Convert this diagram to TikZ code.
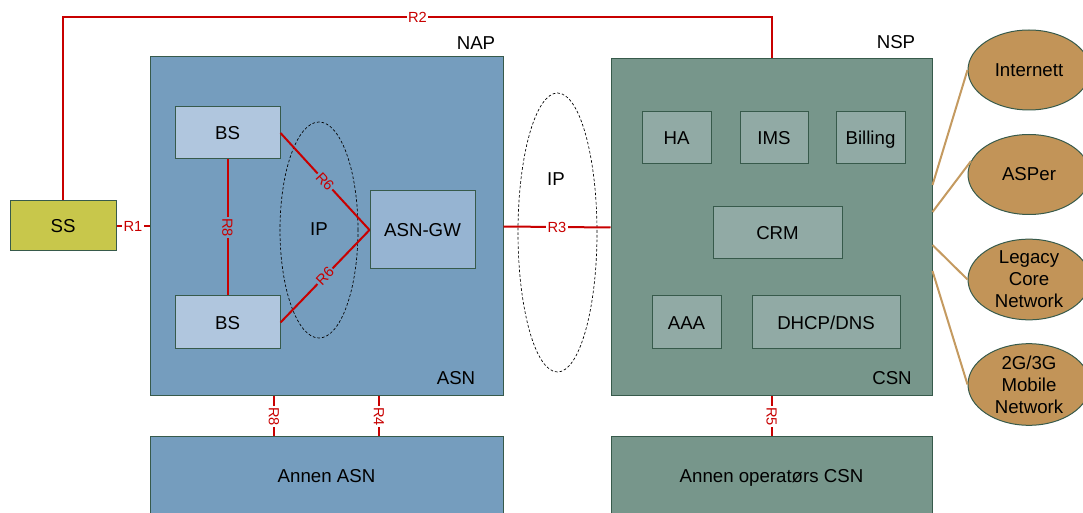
\documentclass[tikz,border=0pt]{standalone}
\usepackage{fontspec}
\setmainfont{Liberation Sans}
\usetikzlibrary{shapes.geometric}

\definecolor{asnfill}{RGB}{117,157,190}
\definecolor{bsfill}{RGB}{176,198,222}
\definecolor{gwfill}{RGB}{150,180,210}
\definecolor{nspfill}{RGB}{119,150,139}
\definecolor{innerfill}{RGB}{145,170,165}
\definecolor{ssfill}{RGB}{200,199,75}
\definecolor{cloudfill}{RGB}{194,148,88}
\definecolor{tanline}{RGB}{196,154,96}
\definecolor{refline}{RGB}{200,0,0}
\definecolor{edge}{RGB}{55,90,75}

\begin{document}
\begin{tikzpicture}[x=0.75pt,y=-0.75pt,
  every node/.style={font=\fontsize{14}{16.5}\selectfont},
  box/.style 2 args={draw=edge, line width=0.75pt, inner sep=0pt,
    text height=10pt, text depth=0pt,
    minimum width=#1*0.75pt, minimum height=#2*0.75pt},
  cloud/.style={ellipse, draw=edge, line width=0.75pt, fill=cloudfill,
    minimum width=91.5pt, minimum height=60pt, inner sep=0pt, align=center},
  ipzone/.style={ellipse, draw=black, dash pattern=on 2pt off 1.5pt,
    line width=0.5pt, inner sep=0pt},
  refpt/.style={draw=refline, line width=1.5pt},
  rlab/.style={font=\fontsize{11}{12}\selectfont, text=refline, inner sep=1pt},
  tanlink/.style={draw=tanline, line width=1.5pt}]

\useasboundingbox (0,0) rectangle (1083,513);
\clip (0,0) rectangle (1083,513);

% access service network
\node[box={353}{339}, fill=asnfill] (nap) at (326.5,226.5) {};
\node at (476,43) {NAP};
\node at (456,378) {ASN};
\node[box={105}{52}, fill=bsfill] (bs1) at (227.5,133) {BS};
\node[box={105}{53}, fill=bsfill] (bs2) at (227.5,322.5) {BS};
\node[box={105}{78}, fill=gwfill] (gw) at (422.5,230) {ASN-GW};
\node[ipzone, minimum width=58.5pt, minimum height=162pt] (ipin) at (319,230) {};
\node at (319,229) {IP};

% connectivity service network
\node[box={321}{337}, fill=nspfill] (nsp) at (771.5,227.5) {};
\node at (896,42) {NSP};
\node at (892,378) {CSN};
\node[box={69}{52}, fill=innerfill] (ha) at (676.5,138) {HA};
\node[box={68}{52}, fill=innerfill] (ims) at (774,138) {IMS};
\node[box={69}{52}, fill=innerfill] (bill) at (870.5,138) {Billing};
\node[box={129}{52}, fill=innerfill] (crm) at (777.5,233) {CRM};
\node[box={69}{53}, fill=innerfill] (aaa) at (686.5,322.5) {AAA};
\node[box={148}{53}, fill=innerfill] (dhcp) at (826,322.5) {DHCP/DNS};

% neighbouring networks
\node[box={353}{78}, fill=asnfill] (asn2) at (326.5,476) {Annen ASN};
\node[box={321}{78}, fill=nspfill] (csn2) at (771.5,476) {Annen operatørs CSN};

% subscriber station
\node[box={106}{50}, fill=ssfill] (ss) at (63,226) {SS};

% IP backbone between ASN and CSN
\node[ipzone, minimum width=59.25pt, minimum height=209.25pt] (ipout) at (557.5,232.5) {};
\node at (556,179) {IP};

% external networks
\node[cloud] (inet) at (1029,70) {Internett};
\node[cloud] (asp) at (1029,174.5) {ASPer};
\node[cloud] (legacy) at (1029,279.5) {Legacy\\Core\\Network};
\node[cloud] (mobile) at (1029,384.5) {2G/3G\\Mobile\\Network};

\coordinate (t1) at (nsp.east |- 0,185);
\coordinate (t2) at (nsp.east |- 0,212);
\coordinate (t3) at (nsp.east |- 0,245);
\coordinate (t4) at (nsp.east |- 0,271);
\draw[tanlink] (t1) -- (inet.west);
\draw[tanlink] (t2) -- (asp.167);
\draw[tanlink] (t3) -- (legacy.west);
\draw[tanlink] (t4) -- (mobile.west);

% reference points
\coordinate (r2c) at (772,17);
\draw[refpt] (ss.north) |- node[pos=0.75, rlab, fill=white] {R2} (r2c) -- (r2c |- nsp.north);
\draw[refpt] (ss.east) -- node[rlab, fill=white] {R1} (ss.east -| nap.west);
\draw[refpt] (nap.east) -- node[rlab, fill=white] {R3} (nsp.west);
\draw[refpt] (bs1.south) -- node[rlab, fill=asnfill, rotate=-90] {R8} (bs2.north);
\draw[refpt] (bs1.east) -- node[rlab, fill=asnfill, sloped] {R6} (gw.west);
\draw[refpt] (bs2.east) -- node[rlab, fill=asnfill, sloped] {R6} (gw.west);
\draw[refpt] (274,0 |- nap.south) -- node[rlab, fill=white, rotate=-90] {R8} (274,0 |- asn2.north);
\draw[refpt] (379,0 |- nap.south) -- node[rlab, fill=white, rotate=-90] {R4} (379,0 |- asn2.north);
\draw[refpt] (nsp.south) -- node[rlab, fill=white, rotate=-90] {R5} (csn2.north);

\end{tikzpicture}
\end{document}
